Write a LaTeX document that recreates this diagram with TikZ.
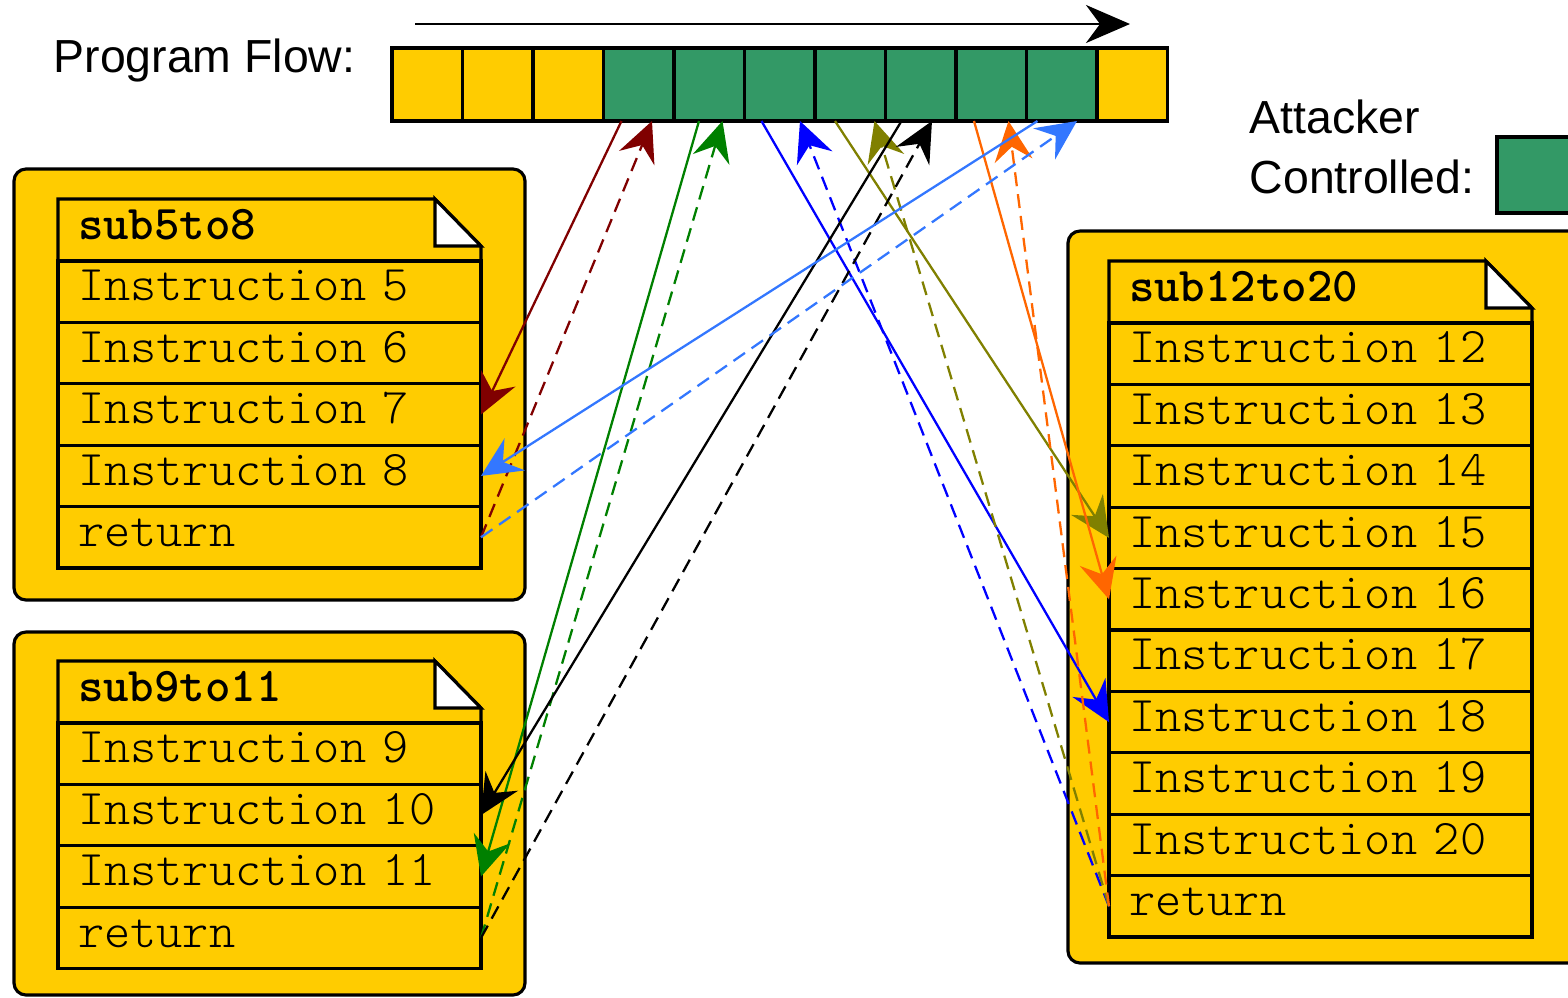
\documentclass[tikz,border=0pt]{standalone}
\usepackage{fontspec}
\setsansfont{Liberation Sans}
\usepackage{tikz}
\usetikzlibrary{arrows.meta,positioning}
\definecolor{codeyellow}{HTML}{FFCC00}
\definecolor{ctrlgreen}{HTML}{339966}
\definecolor{callmaroon}{HTML}{800000}
\definecolor{callgreen}{HTML}{008000}
\definecolor{callblue}{HTML}{0000FF}
\definecolor{callolive}{HTML}{808000}
\definecolor{callorange}{HTML}{FF6600}
\definecolor{calllight}{HTML}{3377FF}
\tikzstyle{cell} = [draw, fill=codeyellow, line width=0.9pt, minimum width=7.05mm, minimum height=7.3mm, inner sep=0pt, outer sep=0pt]
\tikzstyle{subbox} = [draw, fill=codeyellow, line width=0.9pt, rounded corners=1.2mm]
\tikzstyle{instr} = [draw, fill=codeyellow, line width=0.9pt, text width=38.3mm, inner xsep=2mm, inner ysep=0pt, minimum height=6.14mm, outer sep=0pt, text height=0.62em, text depth=0.1em, font=\ttfamily\fontseries{l}\fontsize{14.2}{16}\selectfont]
\tikzstyle{title} = [instr, draw=none, minimum height=6.2mm, font=\ttfamily\bfseries\fontsize{13.8}{16}\selectfont]
\tikzstyle{label} = [inner sep=0pt, font=\sffamily\fontsize{13.2}{17}\selectfont]
\tikzstyle{callarrow} = [line width=0.65pt, -{Stealth[length=4mm,width=3.8mm,inset=1.4mm]}]
\tikzstyle{retarrow} = [callarrow, dash pattern=on 1.4mm off 0.8mm]

\begin{document}
\begin{tikzpicture}[x=0.1mm,y=-0.1mm]
\useasboundingbox (0,0) rectangle (1568,997);

% program flow
\node[label, anchor=base west] (pf) at (53,72) {Program Flow:};
\coordinate (fs) at (415,24);
\coordinate (fe) at (1130,24);
\draw[line width=0.8pt, -{Stealth[length=4.4mm,width=3.8mm,inset=1.4mm]}] (fs) -- (fe);
\node[cell, anchor=north west] (c1) at (392,48) {};
\node[cell, right=0pt of c1] (c2) {};
\node[cell, right=0pt of c2] (c3) {};
\node[cell, fill=ctrlgreen, right=0pt of c3] (c4) {};
\node[cell, fill=ctrlgreen, right=0pt of c4] (c5) {};
\node[cell, fill=ctrlgreen, right=0pt of c5] (c6) {};
\node[cell, fill=ctrlgreen, right=0pt of c6] (c7) {};
\node[cell, fill=ctrlgreen, right=0pt of c7] (c8) {};
\node[cell, fill=ctrlgreen, right=0pt of c8] (c9) {};
\node[cell, fill=ctrlgreen, right=0pt of c9] (c10) {};
\node[cell, right=0pt of c10] (c11) {};

% legend
\node[label, anchor=base west] (att) at (1249,133) {Attacker};
\node[label, anchor=base west] (ctl) at (1249,193) {Controlled:};
\node[cell, fill=ctrlgreen, anchor=north west, minimum width=8mm, minimum height=7.6mm] (key) at (1497,137) {};

% sub5to8
\draw[subbox] (14,169) rectangle (525,600);
\node[title, fill=codeyellow, anchor=north west] (h1) at (58,199) {sub5to8};
\node[instr, below=0pt of h1] (i5) {Instruction 5};
\node[instr, below=0pt of i5] (i6) {Instruction 6};
\node[instr, below=0pt of i6] (i7) {Instruction 7};
\node[instr, below=0pt of i7] (i8) {Instruction 8};
\node[instr, below=0pt of i8] (r1) {return};
\draw[line width=0.9pt] (h1.south west) -- (h1.north west) -- ([xshift=-4.6mm]h1.north east) -- ([yshift=-4.7mm]h1.north east) -- (h1.south east);
\draw[line width=0.9pt, fill=white] ([xshift=-4.6mm]h1.north east) -- ([xshift=-4.6mm,yshift=-4.7mm]h1.north east) -- ([yshift=-4.7mm]h1.north east) -- cycle;

% sub9to11
\draw[subbox] (14,632) rectangle (525,995);
\node[title, fill=codeyellow, anchor=north west] (h2) at (58,661) {sub9to11};
\node[instr, below=0pt of h2] (i9) {Instruction 9};
\node[instr, below=0pt of i9] (i10) {Instruction 10};
\node[instr, below=0pt of i10] (i11) {Instruction 11};
\node[instr, below=0pt of i11] (r2) {return};
\draw[line width=0.9pt] (h2.south west) -- (h2.north west) -- ([xshift=-4.6mm]h2.north east) -- ([yshift=-4.7mm]h2.north east) -- (h2.south east);
\draw[line width=0.9pt, fill=white] ([xshift=-4.6mm]h2.north east) -- ([xshift=-4.6mm,yshift=-4.7mm]h2.north east) -- ([yshift=-4.7mm]h2.north east) -- cycle;

% sub12to20
\draw[subbox] (1068,231) rectangle (1600,963);
\node[title, fill=codeyellow, anchor=north west] (h3) at (1109,261) {sub12to20};
\node[instr, below=0pt of h3] (i12) {Instruction 12};
\node[instr, below=0pt of i12] (i13) {Instruction 13};
\node[instr, below=0pt of i13] (i14) {Instruction 14};
\node[instr, below=0pt of i14] (i15) {Instruction 15};
\node[instr, below=0pt of i15] (i16) {Instruction 16};
\node[instr, below=0pt of i16] (i17) {Instruction 17};
\node[instr, below=0pt of i17] (i18) {Instruction 18};
\node[instr, below=0pt of i18] (i19) {Instruction 19};
\node[instr, below=0pt of i19] (i20) {Instruction 20};
\node[instr, below=0pt of i20] (r3) {return};
\draw[line width=0.9pt] (h3.south west) -- (h3.north west) -- ([xshift=-4.6mm]h3.north east) -- ([yshift=-4.7mm]h3.north east) -- (h3.south east);
\draw[line width=0.9pt, fill=white] ([xshift=-4.6mm]h3.north east) -- ([xshift=-4.6mm,yshift=-4.7mm]h3.north east) -- ([yshift=-4.7mm]h3.north east) -- cycle;

% calls and returns
\draw[callarrow, callmaroon] ([xshift=1.8mm]c4.south west) -- (i7.east);
\draw[retarrow, callmaroon] (r1.east) -- ([xshift=-2.2mm]c4.south east);
\draw[callarrow, callgreen] ([xshift=2.5mm]c5.south west) -- (i11.east);
\draw[retarrow, callgreen] (r2.east) -- ([xshift=-2.2mm]c5.south east);
\draw[callarrow, callblue] ([xshift=1.7mm]c6.south west) -- (i18.west);
\draw[retarrow, callblue] (r3.west) -- ([xshift=-1.5mm]c6.south east);
\draw[callarrow, callolive] ([xshift=2mm]c7.south west) -- (i15.west);
\draw[retarrow, callolive] (r3.west) -- ([xshift=-1.1mm]c7.south east);
\draw[callarrow, black] ([xshift=1.6mm]c8.south west) -- (i10.east);
\draw[retarrow, black] (r2.east) -- ([xshift=-2.4mm]c8.south east);
\draw[callarrow, callorange] ([xshift=1.8mm]c9.south west) -- (i16.west);
\draw[retarrow, callorange] (r3.west) -- ([xshift=-1.8mm]c9.south east);
\draw[callarrow, calllight] ([xshift=1.1mm]c10.south west) -- (i8.east);
\draw[retarrow, calllight] (r1.east) -- ([xshift=-2mm]c10.south east);
\end{tikzpicture}
\end{document}
